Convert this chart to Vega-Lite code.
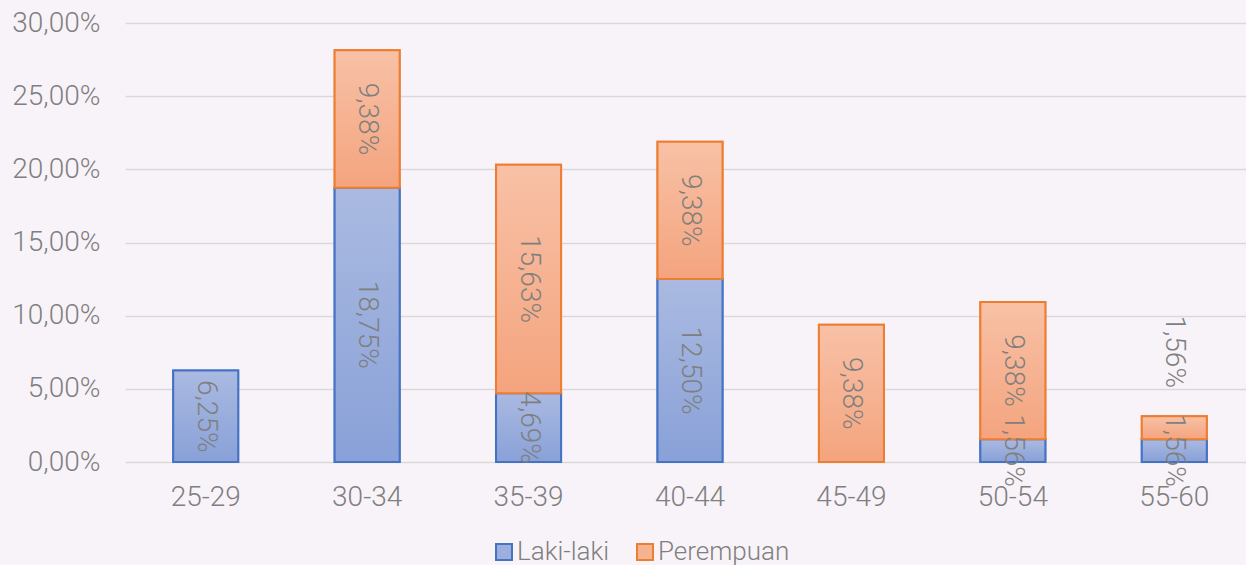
{
  "$schema": "https://vega.github.io/schema/vega-lite/v6.json",
  "width": 1130,
  "height": 439,
  "autosize": {"type": "none"},
  "padding": {"left": 125, "top": 23, "right": -9, "bottom": 103},
  "background": "#F8F3F8",
  "config": {
    "locale": {"number": {"decimal": ",", "thousands": ".", "grouping": [3], "currency": ["", ""]}},
    "view": {"stroke": null},
    "font": "Roboto",
    "axis": {
      "labelFont": "Roboto",
      "labelFontWeight": 300,
      "labelFontSize": 28,
      "labelColor": "#7F7F7F",
      "domain": false,
      "ticks": false,
      "title": null
    },
    "legend": {
      "labelFont": "Roboto",
      "labelFontWeight": 300,
      "labelFontSize": 26,
      "labelColor": "#7F7F7F"
    }
  },
  "data": {
    "values": [
      {"age": "25-29", "series": "Laki-laki", "value": 0.0625},
      {"age": "30-34", "series": "Laki-laki", "value": 0.1875},
      {"age": "30-34", "series": "Perempuan", "value": 0.0938},
      {"age": "35-39", "series": "Laki-laki", "value": 0.0469},
      {"age": "35-39", "series": "Perempuan", "value": 0.1563},
      {"age": "40-44", "series": "Laki-laki", "value": 0.125},
      {"age": "40-44", "series": "Perempuan", "value": 0.0938},
      {"age": "45-49", "series": "Perempuan", "value": 0.0938},
      {"age": "50-54", "series": "Laki-laki", "value": 0.0156},
      {"age": "50-54", "series": "Perempuan", "value": 0.0938},
      {"age": "55-60", "series": "Laki-laki", "value": 0.0156},
      {"age": "55-60", "series": "Perempuan", "value": 0.0156}
    ]
  },
  "transform": [
    {"stack": "value", "groupby": ["age"], "sort": [{"field": "series", "order": "ascending"}], "as": ["v0", "v1"]},
    {"calculate": "(datum.v0 + datum.v1) / 2", "as": "mid"}
  ],
  "encoding": {
    "x": {
      "field": "age",
      "type": "nominal",
      "sort": ["25-29", "30-34", "35-39", "40-44", "45-49", "50-54", "55-60"],
      "scale": {"paddingInner": 0, "paddingOuter": 0},
      "axis": {"labelAngle": 0, "labelPadding": 21, "grid": false}
    }
  },
  "layer": [
    {
      "mark": {"type": "bar", "size": 65, "strokeWidth": 2},
      "encoding": {
        "y": {
          "field": "v1",
          "type": "quantitative",
          "scale": {"domain": [0, 0.3]},
          "axis": {
            "format": ".2%",
            "values": [0, 0.05, 0.1, 0.15, 0.2, 0.25, 0.3],
            "labelPadding": 25,
            "grid": true,
            "gridColor": "#D9D9D9",
            "gridWidth": 1.5
          }
        },
        "y2": {"field": "v0"},
        "fill": {
          "field": "series",
          "type": "nominal",
          "scale": {"domain": ["Laki-laki", "Perempuan"], "range": ["#9CAFDD", "#F6B391"]},
          "legend": {
            "title": null,
            "orient": "none",
            "direction": "horizontal",
            "legendX": 366,
            "legendY": 516,
            "symbolType": "square",
            "symbolSize": 256,
            "symbolStrokeWidth": 2,
            "symbolOpacity": 1,
            "labelOffset": 0,
            "columnPadding": 22
          }
        },
        "stroke": {
          "field": "series",
          "type": "nominal",
          "scale": {"domain": ["Laki-laki", "Perempuan"], "range": ["#4472C4", "#ED7D31"]},
          "legend": {
            "title": null,
            "orient": "none",
            "direction": "horizontal",
            "legendX": 366,
            "legendY": 516,
            "symbolType": "square",
            "symbolSize": 256,
            "symbolStrokeWidth": 2,
            "symbolOpacity": 1,
            "labelOffset": 0,
            "columnPadding": 22
          }
        }
      }
    },
    {
      "mark": {"type": "bar", "size": 65, "strokeWidth": 2},
      "encoding": {
        "y": {"field": "v1", "type": "quantitative"},
        "y2": {"field": "v0"},
        "fill": {
          "condition": {
            "test": "datum.series == 'Laki-laki'",
            "value": {"gradient": "linear", "x1": 0, "y1": 0, "x2": 0, "y2": 1, "stops": [{"offset": 0, "color": "#AABAE1"}, {"offset": 1, "color": "#89A1D8"}]}
          },
          "value": {"gradient": "linear", "x1": 0, "y1": 0, "x2": 0, "y2": 1, "stops": [{"offset": 0, "color": "#F8C1A6"}, {"offset": 1, "color": "#F4A47E"}]}
        },
        "stroke": {
          "condition": {"test": "datum.series == 'Laki-laki'", "value": "#4472C4"},
          "value": "#ED7D31"
        }
      }
    },
    {
      "transform": [{"filter": "!(datum.age == '55-60' && datum.series == 'Perempuan')"}],
      "mark": {"type": "text", "angle": 90, "align": "center", "baseline": "middle", "font": "Roboto", "fontWeight": 300, "fontSize": 28, "color": "#7F7F7F"},
      "encoding": {
        "y": {"field": "mid", "type": "quantitative"},
        "text": {"field": "value", "type": "quantitative", "format": ".2%"}
      }
    },
    {
      "transform": [{"filter": "datum.age == '55-60' && datum.series == 'Perempuan'"}],
      "mark": {"type": "text", "angle": 90, "align": "center", "baseline": "middle", "dx": -76, "font": "Roboto", "fontWeight": 300, "fontSize": 28, "color": "#7F7F7F"},
      "encoding": {
        "y": {"field": "mid", "type": "quantitative"},
        "text": {"field": "value", "type": "quantitative", "format": ".2%"}
      }
    }
  ]
}
